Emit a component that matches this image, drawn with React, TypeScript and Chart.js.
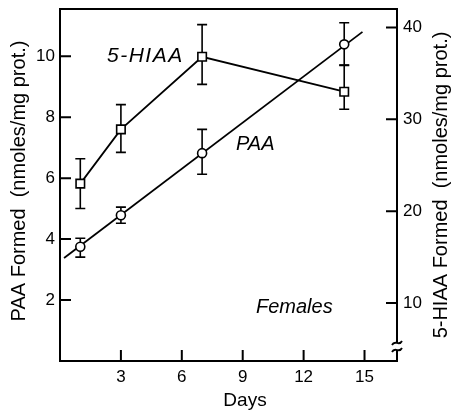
import { useEffect, useRef } from "react";
import { Chart, registerables } from "chart.js";

Chart.register(...registerables);

// ---- data ----
const days = [1, 3, 7, 14];
const paa = [3.75, 4.78, 6.82, 10.39];
const paaHi = [4.03, 5.05, 7.6, 11.1];
const paaLo = [3.41, 4.52, 6.13, 9.7];
const hiaa = [23.0, 28.9, 36.8, 33.0];
const hiaaHi = [25.7, 31.6, 40.3, 35.9];
const hiaaLo = [20.3, 26.4, 33.8, 31.1];
const paaFitDays = [0.2, 14.9];
const paaFit = [3.38, 10.8];
const xTicks = [3, 6, 9, 12, 15];
const yTicks = [2, 4, 6, 8, 10];
const y2Ticks = [10, 20, 30, 40];

const FONT = "'Liberation Sans', Arial, sans-serif";

const decoPlugin = {
  id: "deco",
  beforeDatasetsDraw(chart: any) {
    const { ctx, scales } = chart;
    const { x, y, y2 } = scales;
    ctx.save();
    ctx.strokeStyle = "#000";
    ctx.lineWidth = 1.6;
    const cap = 5;
    const bar = (d: number, lo: number, hi: number, s: any) => {
      const px = x.getPixelForValue(d);
      const a = s.getPixelForValue(lo);
      const b = s.getPixelForValue(hi);
      ctx.beginPath();
      ctx.moveTo(px, a);
      ctx.lineTo(px, b);
      ctx.moveTo(px - cap, a);
      ctx.lineTo(px + cap, a);
      ctx.moveTo(px - cap, b);
      ctx.lineTo(px + cap, b);
      ctx.stroke();
    };
    days.forEach((d, i) => {
      bar(d, paaLo[i], paaHi[i], y);
      bar(d, hiaaLo[i], hiaaHi[i], y2);
    });
    ctx.restore();
  },
  afterDraw(chart: any) {
    const { ctx, chartArea: ca, scales } = chart;
    const { x, y, y2 } = scales;
    ctx.save();
    ctx.strokeStyle = "#000";
    ctx.lineWidth = 2;
    // top frame line
    ctx.beginPath();
    ctx.moveTo(ca.left - 1, ca.top);
    ctx.lineTo(ca.right + 1, ca.top);
    ctx.stroke();
    // inward tick marks
    const tl = 11;
    ctx.beginPath();
    yTicks.forEach((v) => {
      const p = y.getPixelForValue(v);
      ctx.moveTo(ca.left, p);
      ctx.lineTo(ca.left + tl, p);
    });
    y2Ticks.forEach((v) => {
      const p = y2.getPixelForValue(v);
      ctx.moveTo(ca.right, p);
      ctx.lineTo(ca.right - tl, p);
    });
    xTicks.forEach((v) => {
      const p = x.getPixelForValue(v);
      ctx.moveTo(p, ca.bottom);
      ctx.lineTo(p, ca.bottom - tl);
    });
    ctx.stroke();
    // axis break on right axis
    const bTop = ca.bottom - 18;
    const bBot = ca.bottom - 11;
    ctx.fillStyle = "#fff";
    ctx.fillRect(ca.right - 5, bTop, 10, bBot - bTop);
    ctx.lineWidth = 1.8;
    const tilde = (cy: number) => {
      ctx.beginPath();
      ctx.moveTo(ca.right - 5, cy + 2);
      ctx.bezierCurveTo(ca.right - 2, cy - 4, ca.right + 2, cy + 4, ca.right + 5, cy - 2);
      ctx.stroke();
    };
    tilde(bTop);
    tilde(bBot);

    // texts
    ctx.fillStyle = "#000";
    ctx.textBaseline = "alphabetic";
    ctx.textAlign = "left";
    ctx.font = `italic 21px ${FONT}`;
    (ctx as any).letterSpacing = "1.5px";
    ctx.fillText("5-HIAA", 107, 62);
    (ctx as any).letterSpacing = "0px";
    ctx.font = `italic 20px ${FONT}`;
    ctx.fillText("PAA", 236, 150);
    ctx.fillText("Females", 256, 313);

    ctx.font = `19px ${FONT}`;
    ctx.textAlign = "center";
    ctx.fillText("Days", 245, 406);

    ctx.textBaseline = "middle";
    ctx.font = `20px ${FONT}`;
    ctx.save();
    ctx.translate(19, 181);
    ctx.rotate(-Math.PI / 2);
    ctx.fillText("PAA Formed  (nmoles/mg prot.)", 0, 0);
    ctx.restore();
    ctx.save();
    ctx.translate(441, 185);
    ctx.rotate(-Math.PI / 2);
    ctx.fillText("5-HIAA Formed  (nmoles/mg prot.)", 0, 0);
    ctx.restore();
    ctx.restore();
  },
};

const zeroPad = (s: any) => {
  s.paddingTop = 0;
  s.paddingBottom = 0;
  s.paddingLeft = 0;
  s.paddingRight = 0;
};

export default function App() {
  const ref = useRef<HTMLCanvasElement | null>(null);
  useEffect(() => {
    if (!ref.current) return;
    const tickFont = { family: FONT, size: 17 };
    const chart = new Chart(ref.current, {
      type: "scatter",
      data: {
        datasets: [
          {
            label: "PAA",
            data: days.map((d, i) => ({ x: d, y: paa[i] })),
            yAxisID: "y",
            showLine: false,
            pointStyle: "circle",
            pointRadius: 4.5,
            pointBackgroundColor: "#fff",
            pointBorderColor: "#000",
            pointBorderWidth: 1.6,
            order: 1,
          },
          {
            label: "5-HIAA",
            data: days.map((d, i) => ({ x: d, y: hiaa[i] })),
            yAxisID: "y2",
            showLine: true,
            borderColor: "#000",
            borderWidth: 1.8,
            pointStyle: "rect",
            pointRadius: 6,
            pointBackgroundColor: "#fff",
            pointBorderColor: "#000",
            pointBorderWidth: 1.6,
            order: 1,
          },
          {
            label: "PAA fit",
            data: paaFitDays.map((d, i) => ({ x: d, y: paaFit[i] })),
            yAxisID: "y",
            showLine: true,
            borderColor: "#000",
            borderWidth: 1.8,
            pointRadius: 0,
            order: 2,
          },
        ],
      },
      options: {
        animation: false,
        responsive: true,
        maintainAspectRatio: false,
        layout: { padding: { top: 9, left: 0, right: 0, bottom: 0 } },
        plugins: { legend: { display: false }, tooltip: { enabled: false } },
        scales: {
          x: {
            type: "linear",
            position: "bottom",
            min: 0,
            max: 16.6,
            grid: { display: true, drawOnChartArea: false, drawTicks: false },
            border: { display: true, color: "#000", width: 2 },
            afterBuildTicks: (s: any) => {
              s.ticks = xTicks.map((v) => ({ value: v }));
            },
            afterFit: (s: any) => {
              s.height = 50;
              zeroPad(s);
            },
            ticks: { font: tickFont, color: "#000", padding: 6, maxRotation: 0, autoSkip: false },
          },
          y: {
            type: "linear",
            position: "left",
            min: 0,
            max: 11.55,
            grid: { display: true, drawOnChartArea: false, drawTicks: false },
            border: { display: true, color: "#000", width: 2 },
            afterBuildTicks: (s: any) => {
              s.ticks = yTicks.map((v) => ({ value: v }));
            },
            afterFit: (s: any) => {
              s.width = 60;
              zeroPad(s);
            },
            ticks: { font: tickFont, color: "#000", padding: 5, autoSkip: false },
          },
          y2: {
            type: "linear",
            position: "right",
            min: 3.7,
            max: 42,
            grid: { display: true, drawOnChartArea: false, drawTicks: false },
            border: { display: true, color: "#000", width: 2 },
            afterBuildTicks: (s: any) => {
              s.ticks = y2Ticks.map((v) => ({ value: v }));
            },
            afterFit: (s: any) => {
              s.width = 55;
              zeroPad(s);
            },
            ticks: { font: tickFont, color: "#000", padding: 6, autoSkip: false },
          },
        },
      },
      plugins: [decoPlugin],
    } as any);
    return () => chart.destroy();
  }, []);
  return (
    <div style={{ position: "fixed", left: 0, top: 0, width: 452, height: 411, background: "#fff" }}>
      <canvas ref={ref} />
    </div>
  );
}
